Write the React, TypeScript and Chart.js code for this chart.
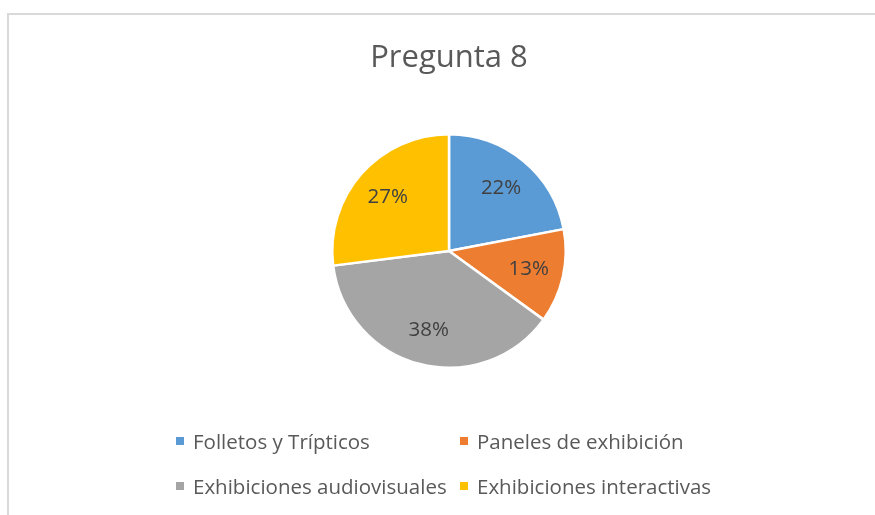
import React, { useEffect, useRef } from "react";
import { Chart, registerables } from "chart.js";

Chart.register(...registerables);

const titleText = "Pregunta 8";
const categories = [
  "Folletos y Trípticos",
  "Paneles de exhibición",
  "Exhibiciones audiovisuales",
  "Exhibiciones interactivas",
];
const values = [22, 13, 38, 27];
const colors = ["#5B9BD5", "#ED7D31", "#A5A5A5", "#FFC000"];

const FONT = "'Open Sans', 'Noto Sans', sans-serif";

const decorPlugin = {
  id: "decor",
  beforeDraw(chart: any) {
    const ctx = chart.ctx;
    ctx.save();
    ctx.fillStyle = "#ffffff";
    ctx.fillRect(0, 0, chart.width, chart.height);
    ctx.fillStyle = "#D9D9D9";
    ctx.fillRect(7, 13, chart.width - 7, 2);
    ctx.fillRect(7, 13, 2, chart.height - 13);
    // title
    ctx.fillStyle = "#595959";
    ctx.font = `31px ${FONT}`;
    ctx.textAlign = "center";
    ctx.textBaseline = "alphabetic";
    ctx.fillText(titleText, 449, 67);
    // legend (2x2 grid)
    const colX = [176, 460];
    const rowY = [449, 494];
    ctx.font = `20.5px ${FONT}`;
    ctx.textAlign = "left";
    categories.forEach((c, i) => {
      const x = colX[i % 2];
      const y = rowY[Math.floor(i / 2)];
      ctx.fillStyle = colors[i];
      ctx.fillRect(x, y - 12, 8, 8);
      ctx.fillStyle = "#595959";
      ctx.fillText(c, x + 17, y);
    });
    ctx.restore();
  },
  afterDatasetsDraw(chart: any) {
    const ctx = chart.ctx;
    const meta = chart.getDatasetMeta(0);
    const data = chart.data.datasets[0].data as number[];
    const total = data.reduce((a, b) => a + b, 0);
    ctx.save();
    ctx.fillStyle = "#404040";
    ctx.font = `20.5px ${FONT}`;
    ctx.textAlign = "center";
    ctx.textBaseline = "middle";
    meta.data.forEach((arc: any, i: number) => {
      const { x, y, startAngle, endAngle, outerRadius } = arc.getProps(
        ["x", "y", "startAngle", "endAngle", "outerRadius"],
        true
      );
      const mid = (startAngle + endAngle) / 2;
      const r = outerRadius * 0.7;
      const label = Math.round((data[i] / total) * 100) + "%";
      ctx.fillText(label, x + Math.cos(mid) * r, y + Math.sin(mid) * r);
    });
    ctx.restore();
  },
};

export default function App() {
  const ref = useRef<HTMLCanvasElement | null>(null);
  useEffect(() => {
    if (!ref.current) return;
    const chart = new Chart(ref.current, {
      type: "pie",
      data: {
        labels: categories,
        datasets: [
          {
            data: values,
            backgroundColor: colors,
            borderColor: "#ffffff",
            borderWidth: 2.5,
          },
        ],
      },
      options: {
        responsive: false,
        animation: false,
        layout: { padding: { top: 133, bottom: 146, left: 200, right: 177 } },
        plugins: {
          legend: { display: false },
          title: { display: false },
          tooltip: { enabled: false },
        },
      },
      plugins: [decorPlugin],
    });
    return () => chart.destroy();
  }, []);
  return (
    <div
      style={{
        position: "fixed",
        left: 0,
        top: 0,
        width: 875,
        height: 515,
        background: "#fff",
        overflow: "hidden",
      }}
    >
      <canvas ref={ref} width={875} height={515} style={{ display: "block" }} />
    </div>
  );
}
